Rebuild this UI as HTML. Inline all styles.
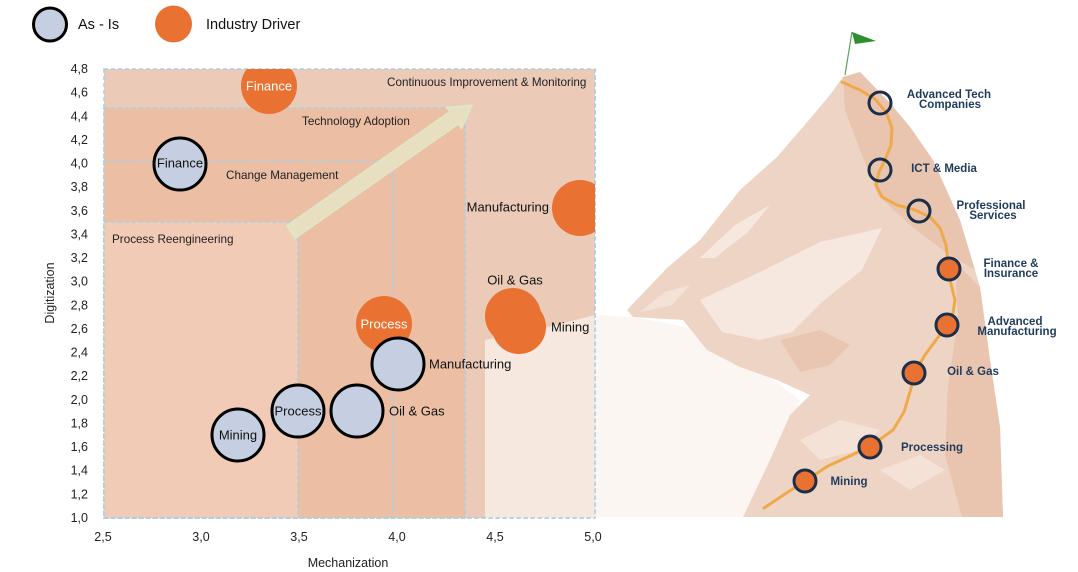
<!DOCTYPE html>
<html><head><meta charset="utf-8"><style>
html,body{margin:0;padding:0;background:#fff;}
svg{display:block;font-family:"Liberation Sans",Arial,sans-serif;}
</style></head><body>
<svg width="1078" height="572" viewBox="0 0 1078 572" xmlns="http://www.w3.org/2000/svg">
<rect width="1078" height="572" fill="#fff"/>
<defs>
<clipPath id="plot"><rect x="104" y="69" width="491" height="449"/></clipPath>
</defs>

<!-- Mountain -->
<path d="M485,340 L600,315 L640,318 L700,330 L760,370 L800,400 L760,517 L485,517 Z" fill="#fcf6f3"/>
<path d="M627,310 L667,268 L700,240 L740,190 L777,157 L803,127 L830,95 L843,77 L860,72 L890,103 L910,127 L933,160 L960,220 L980,287 L990,360 L1000,427 L1003,517 L743,517 L770,460 L790,415 L810,395 L777,380 L740,367 L707,350 L683,320 L633,317 Z" fill="#eed4c4"/>
<path d="M843,77 L860,72 L890,103 L910,127 L933,160 L960,220 L975,270 L945,252 L910,225 L878,195 L860,150 L845,110 Z" fill="#e9c5b0"/>
<path d="M955,262 L980,287 L990,360 L1000,427 L1003,517 L962,517 L945,455 L948,385 L958,320 Z" fill="#e9c5b0"/>
<path d="M700,300 L760,272 L820,242 L882,228 L862,270 L822,302 L792,332 L760,340 L722,332 Z" fill="#f6e8df"/>
<path d="M700,258 L735,225 L770,205 L748,232 L715,258 Z" fill="#f6e8df"/>
<path d="M640,312 L665,292 L690,285 L672,305 Z" fill="#f4e2d7"/>
<path d="M800,440 L840,420 L880,430 L860,450 L820,460 Z" fill="#f4e2d7"/>
<path d="M880,470 L920,455 L945,470 L910,490 Z" fill="#f4e2d7"/>
<path d="M780,340 L820,330 L850,345 L830,365 L800,372 Z" fill="#e9c6b1"/>

<!-- Flag -->
<line x1="845" y1="75" x2="852" y2="32" stroke="#5aa55a" stroke-width="1.2"/>
<path d="M852,32 L876,41 L855,44 Z" fill="#2f8f2f"/>

<!-- Path -->
<polyline points="842,82 860,90 875,99 886,112 892,128 891,145 885,160 879,172 876,185 882,197 897,205 915,210 930,217 940,228 946,245 948,262 950,280 955,300 953,313 946,326 936,340 925,355 915,372 910,392 904,412 893,430 875,443 852,455 828,466 805,481 785,494 764,508" fill="none" stroke="#f0a94a" stroke-width="3" stroke-linejoin="round" stroke-linecap="round"/>

<g stroke="#1c2f48" stroke-width="3">
<circle cx="880" cy="103" r="11" fill="none"/>
<circle cx="880" cy="170" r="11" fill="none"/>
<circle cx="919" cy="211" r="11" fill="none"/>
<circle cx="949" cy="269" r="11" fill="#e97132"/>
<circle cx="947" cy="325" r="11" fill="#e97132"/>
<circle cx="914" cy="373" r="11" fill="#e97132"/>
<circle cx="870" cy="447" r="11" fill="#e97132"/>
<circle cx="805" cy="481" r="11" fill="#e97132"/>
</g>
<g font-weight="bold" font-size="11.5" fill="#1f3b5c" text-anchor="middle" dominant-baseline="central">
<text x="949" y="95">Advanced Tech</text>
<text x="950" y="105">Companies</text>
<text x="944" y="169">ICT &amp; Media</text>
<text x="991" y="206">Professional</text>
<text x="993" y="216">Services</text>
<text x="1011" y="264">Finance &amp;</text>
<text x="1011" y="274">Insurance</text>
<text x="1015" y="322">Advanced</text>
<text x="1017" y="332">Manufacturing</text>
<text x="973" y="372">Oil &amp; Gas</text>
<text x="932" y="448">Processing</text>
<text x="849" y="482">Mining</text>
</g>

<!-- Legend -->
<circle cx="50" cy="24.5" r="16.5" fill="#c5cfe1" stroke="#000" stroke-width="3"/>
<text x="78" y="25" font-size="14.5" fill="#111" dominant-baseline="central">As - Is</text>
<circle cx="173.5" cy="24" r="18.5" fill="#e97132"/>
<text x="206" y="25" font-size="14.5" fill="#111" dominant-baseline="central">Industry Driver</text>

<!-- Chart regions -->
<g stroke="#a8cfe3" stroke-width="1.5" stroke-dasharray="4,3">
<rect x="104" y="69" width="491" height="449" fill="#ebcab8"/>
<rect x="104" y="108" width="361" height="410" fill="#ecbfa5"/>
<rect x="104" y="161" width="289" height="357" fill="#ecbfa5"/>
<rect x="104" y="222" width="194" height="296" fill="#f1cbb5"/>
</g>
<path d="M485,340 L540,329 L595,315 L595,518 L485,518 Z" fill="#f6e7df"/>
<line x1="595" y1="69" x2="595" y2="518" stroke="#a8cfe3" stroke-width="1.5" stroke-dasharray="4,3"/>
<line x1="104" y1="518" x2="595" y2="518" stroke="#a8cfe3" stroke-width="1.5" stroke-dasharray="4,3"/>

<!-- Region labels -->
<g font-size="11.7" fill="#222">
<text x="387" y="86">Continuous Improvement &amp; Monitoring</text>
<text x="302" y="125">Technology Adoption</text>
<text x="226" y="179">Change Management</text>
<text x="112" y="243">Process Reengineering</text>
</g>

<!-- Arrow -->
<g transform="translate(291,232) rotate(-35)">
<path d="M0,-7.5 L199,-7.5 L199,-13 L221,0 L199,13 L199,7.5 L0,7.5 Z" fill="#e8e4c4" fill-opacity="0.85" stroke="#dde8c6" stroke-width="1.5"/>
</g>

<!-- Bubbles -->
<g clip-path="url(#plot)">
<circle cx="269" cy="86" r="28" fill="#e97132"/>
<circle cx="580" cy="208" r="28" fill="#e97132"/>
<circle cx="384" cy="324" r="28" fill="#e97132"/>
<circle cx="513" cy="316" r="28" fill="#e97132"/>
<circle cx="519" cy="327" r="27" fill="#e97132"/>
<g fill="#c5cfe1" stroke="#000" stroke-width="3">
<circle cx="180" cy="164" r="26"/>
<circle cx="238" cy="435" r="26"/>
<circle cx="298" cy="411" r="26"/>
<circle cx="357" cy="411" r="26"/>
<circle cx="398" cy="364" r="26"/>
</g>
</g>

<!-- Bubble labels -->
<g font-size="13" dominant-baseline="central">
<text x="269" y="86" fill="#fff" text-anchor="middle">Finance</text>
<text x="384" y="324" fill="#fff" text-anchor="middle">Process</text>
<text x="549" y="207" fill="#111" text-anchor="end">Manufacturing</text>
<text x="515" y="280" fill="#111" text-anchor="middle">Oil &amp; Gas</text>
<text x="551" y="327" fill="#111">Mining</text>
<text x="180" y="163" fill="#111" text-anchor="middle">Finance</text>
<text x="238" y="435" fill="#111" text-anchor="middle">Mining</text>
<text x="298" y="411" fill="#111" text-anchor="middle">Process</text>
<text x="389" y="411" fill="#111">Oil &amp; Gas</text>
<text x="429" y="364" fill="#111">Manufacturing</text>
</g>

<!-- Y ticks -->
<g font-size="12.5" fill="#222" text-anchor="end" dominant-baseline="central">
<text x="88" y="518">1,0</text>
<text x="88" y="494.4">1,2</text>
<text x="88" y="470.7">1,4</text>
<text x="88" y="447.1">1,6</text>
<text x="88" y="423.5">1,8</text>
<text x="88" y="399.8">2,0</text>
<text x="88" y="376.2">2,2</text>
<text x="88" y="352.6">2,4</text>
<text x="88" y="328.9">2,6</text>
<text x="88" y="305.3">2,8</text>
<text x="88" y="281.7">3,0</text>
<text x="88" y="258">3,2</text>
<text x="88" y="234.4">3,4</text>
<text x="88" y="210.8">3,6</text>
<text x="88" y="187.1">3,8</text>
<text x="88" y="163.5">4,0</text>
<text x="88" y="139.9">4,2</text>
<text x="88" y="116.3">4,4</text>
<text x="88" y="92.6">4,6</text>
<text x="88" y="69">4,8</text>
</g>
<!-- X ticks -->
<g font-size="12.5" fill="#222" text-anchor="middle" dominant-baseline="central">
<text x="103" y="537">2,5</text>
<text x="201" y="537">3,0</text>
<text x="299" y="537">3,5</text>
<text x="397" y="537">4,0</text>
<text x="495" y="537">4,5</text>
<text x="593" y="537">5,0</text>
</g>
<text x="348" y="563" font-size="12.5" fill="#222" text-anchor="middle" dominant-baseline="central">Mechanization</text>
<text transform="translate(50,293) rotate(-90)" font-size="12.5" fill="#222" text-anchor="middle" dominant-baseline="central">Digitization</text>
</svg>
</body></html>
